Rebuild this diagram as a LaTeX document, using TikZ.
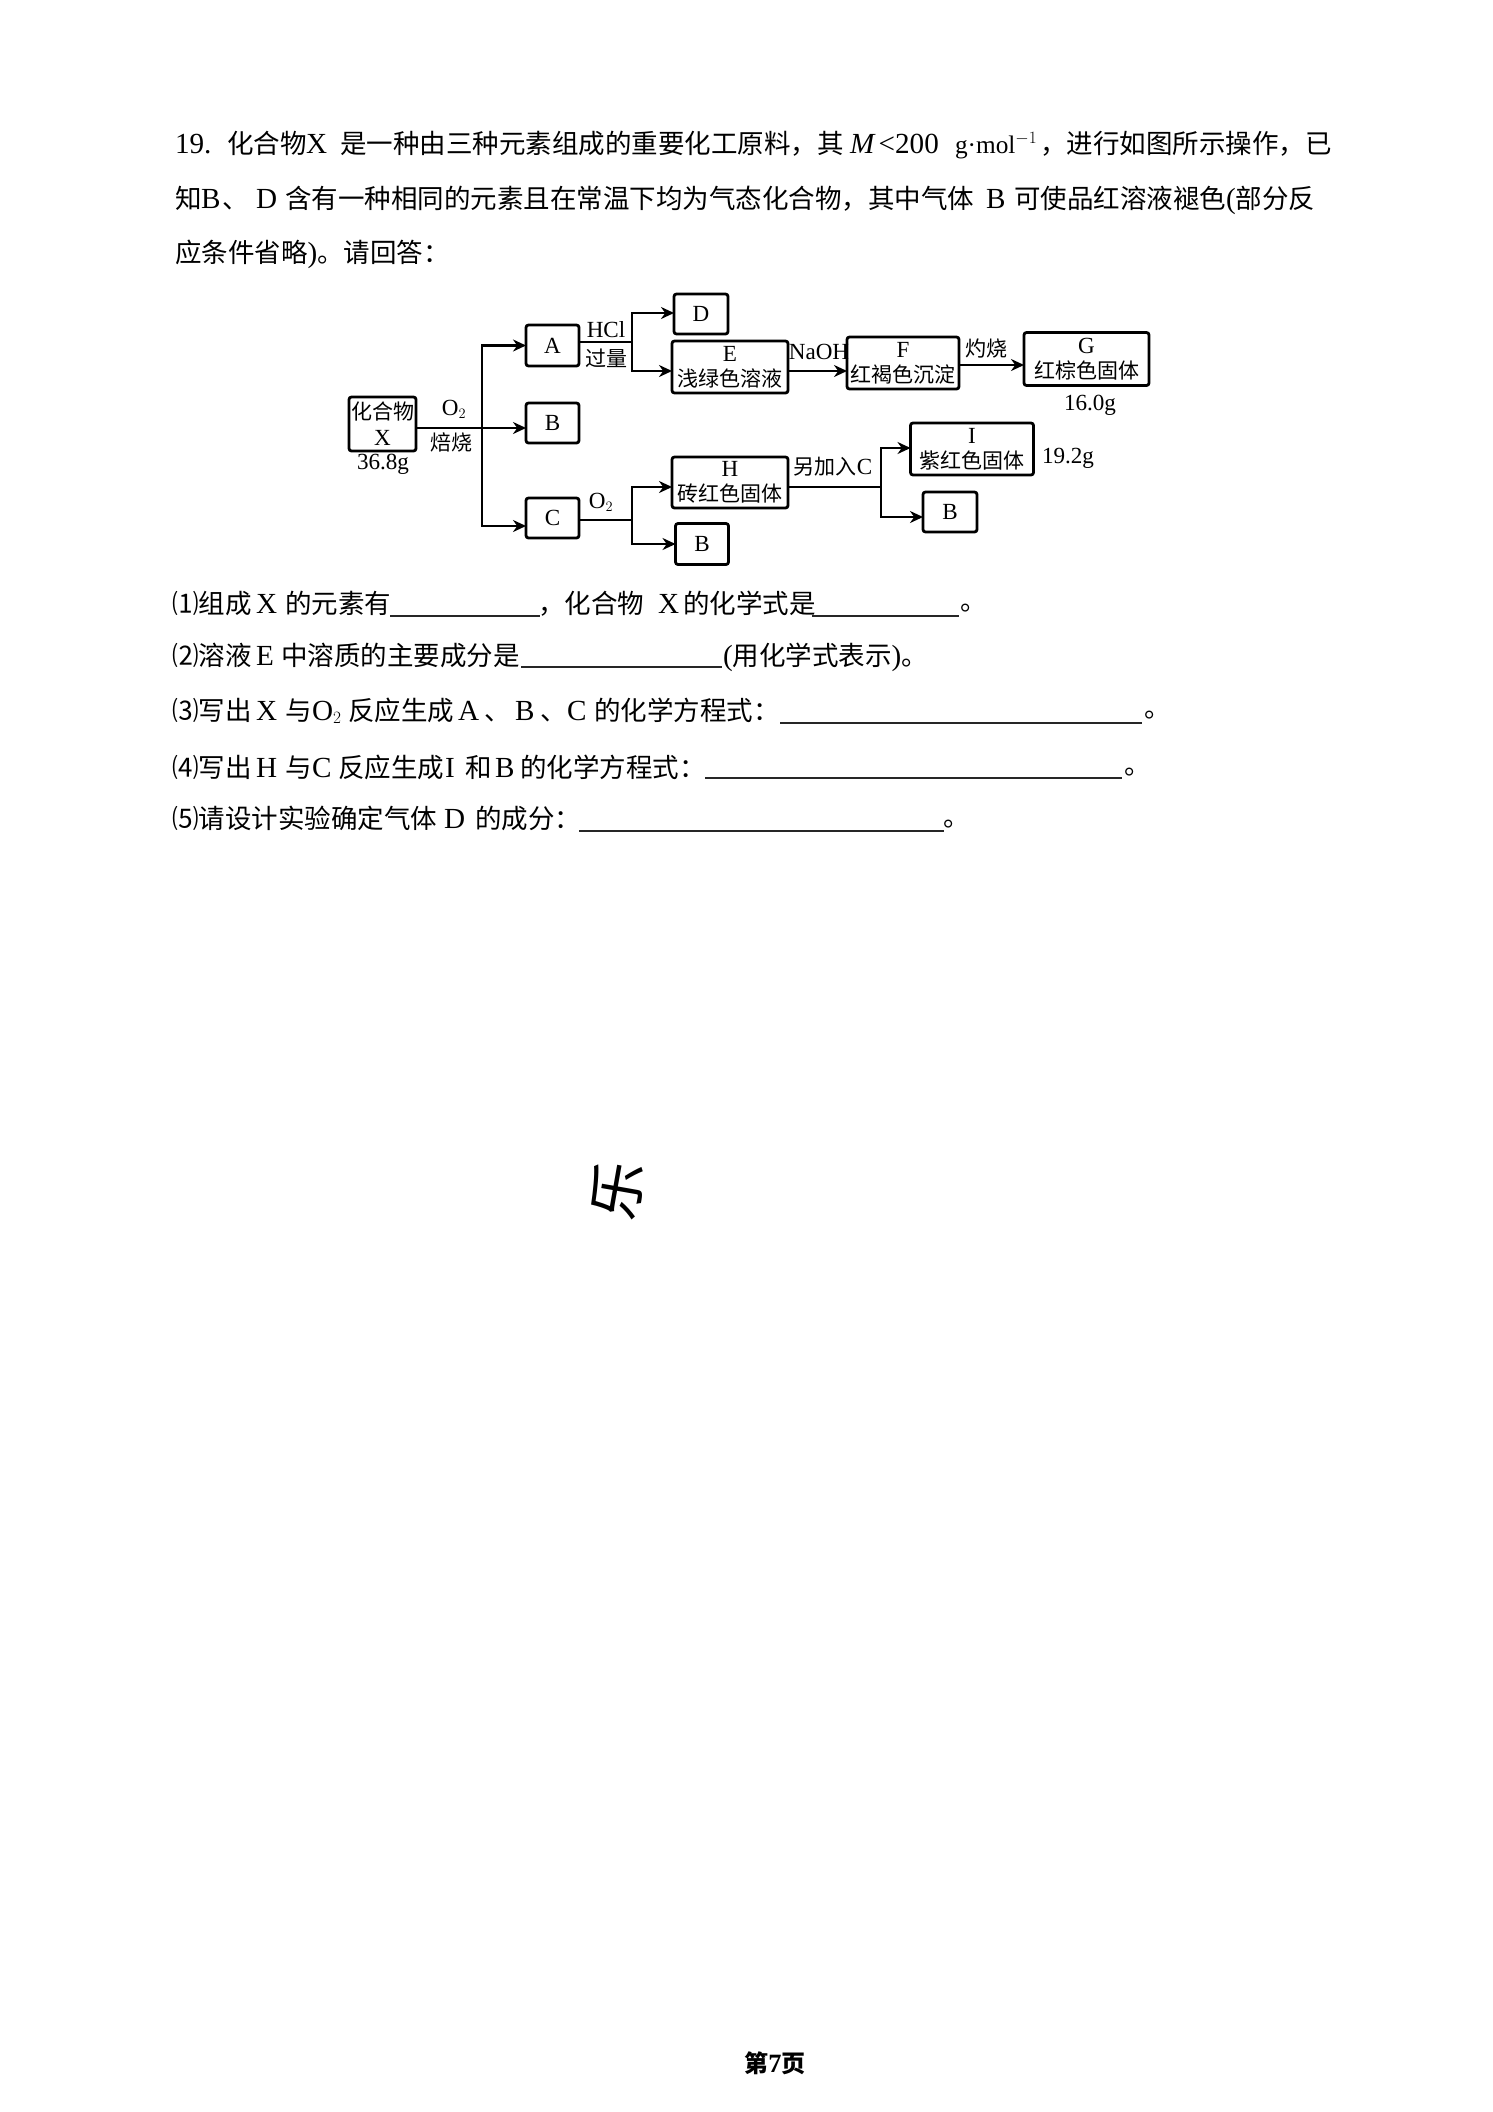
\documentclass[tikz,border=0pt]{standalone}
\usepackage{fontspec}
\setmainfont{Noto Sans CJK SC}
\newfontfamily\lat{Liberation Serif}[Scale=1.1]
\newfontfamily\latit{Liberation Serif Italic}[Scale=1.1]
\usetikzlibrary{arrows.meta,calc}
\newcommand{\tx}[4]{\node[txt] (#1) at (#2,#3) {#4};}
\newcommand{\la}[1]{{\lat #1}}
\tikzset{
  x=1pt,y=-1pt,
  txt/.style={anchor=base west,inner sep=0pt,outer sep=0pt,font=\fontsize{26.5}{30}\selectfont},
  lab/.style={anchor=center,inner sep=0pt,outer sep=0pt,font=\fontsize{21}{25}\selectfont,align=center},
  box/.style={draw=black,line width=2.8pt,rounded corners=2.5pt,inner sep=0pt,outer sep=0pt,align=center,font=\fontsize{21}{25}\selectfont},
  conn/.style={draw=black,line width=2.8pt},
  arr/.style={conn,-{Stealth[length=13pt,width=12pt]}},
  blank/.style={draw=black!85,line width=2.6pt},
}
\begin{document}
\begin{tikzpicture}
\fill[white] (0,0) rectangle (1492,2112);
\useasboundingbox (0,0) rectangle (1492,2112);
% question text
\tx{a1}{175}{153}{\la{19.}}
\tx{a2}{227}{153}{化合物}
\tx{a3}{306}{153}{\la{X}}
\tx{a4}{340}{153}{是一种由三种元素组成的重要化工原料，其}
\tx{a5}{850}{153}{{\latit M}\,\la{<200}}
\tx{a6}{955}{153}{{\fontsize{23}{26}\selectfont\la{g·mol$^{-1}$}}}
\tx{a7}{1040}{153}{，进行如图所示操作，已}
\tx{b1}{175}{208}{知}
\tx{b2}{201}{208}{\la{B}}
\tx{b3}{222}{208}{、}
\tx{b4}{256}{208}{\la{D}}
\tx{b5}{285}{208}{含有一种相同的元素且在常温下均为气态化合物，其中气体}
\tx{b6}{986}{208}{\la{B}}
\tx{b7}{1014}{208}{可使品红溶液褪色}
\tx{b8}{1226}{208}{\la{(}部分反}
\tx{c1}{175}{262}{应条件省略\la{)}。请回答：}
% questions
\tx{q1a}{172}{613}{⑴组成}
\tx{q1b}{256}{613}{\la{X}}
\tx{q1c}{285}{613}{的元素有}
\tx{q1d}{538}{613}{，化合物}
\tx{q1e}{658}{613}{\la{X}}
\tx{q1f}{683}{613}{的化学式是}
\tx{q1g}{960}{610}{。}
\tx{q2a}{172}{665}{⑵溶液}
\tx{q2b}{256}{665}{\la{E}}
\tx{q2c}{281}{665}{中溶质的主要成分是}
\tx{q2d}{723}{665}{\la{(}用化学式表示\la{)}。}
\tx{q3a}{172}{720}{⑶写出}
\tx{q3b}{256}{720}{\la{X}}
\tx{q3c}{285}{720}{与}
\tx{q3d}{312}{720}{\la{O$_{2}$}}
\tx{q3e}{348}{720}{反应生成}
\tx{q3f}{458}{720}{\la{A}}
\tx{q3g}{484}{720}{、}
\tx{q3h}{515}{720}{\la{B}}
\tx{q3i}{540}{720}{、}
\tx{q3j}{567}{720}{\la{C}}
\tx{q3k}{594}{720}{的化学方程式：}
\tx{q3l}{1144}{717}{。}
\tx{q4a}{172}{777}{⑷写出}
\tx{q4b}{256}{777}{\la{H}}
\tx{q4c}{285}{777}{与}
\tx{q4d}{312}{777}{\la{C}}
\tx{q4e}{338}{777}{反应生成}
\tx{q4f}{445}{777}{\la{I}}
\tx{q4g}{465}{777}{和}
\tx{q4h}{495}{777}{\la{B}}
\tx{q4i}{520}{777}{的化学方程式：}
\tx{q4j}{1124}{774}{。}
\tx{q5a}{172}{828}{⑸请设计实验确定气体}
\tx{q5b}{444}{828}{\la{D}}
\tx{q5c}{475}{828}{的成分：}
\tx{q5d}{943}{826}{。}
% blanks
\draw[blank] (390,616) -- (540,616);
\draw[blank] (812,616) -- (959,616);
\draw[blank] (521,667) -- (722,667);
\draw[blank] (780,723) -- (1142,723);
\draw[blank] (705,778) -- (1122,778);
\draw[blank] (579,831) -- (944,831);
% boxes
\node[box,minimum width=67pt,minimum height=54pt] (X) at (382.5,424) {化合物\\[1pt]\la{X}};
\node[box,minimum width=53pt,minimum height=41pt] (A) at (552.5,345.5) {\la{A}};
\node[box,minimum width=53pt,minimum height=40pt] (B1) at (552.5,423) {\la{B}};
\node[box,minimum width=53pt,minimum height=40pt] (C) at (552.5,518) {\la{C}};
\node[box,minimum width=54pt,minimum height=40pt] (D) at (701,314) {\la{D}};
\node[box,minimum width=116pt,minimum height=52pt] (E) at (730,367) {\la{E}\\浅绿色溶液};
\node[box,minimum width=112pt,minimum height=52pt] (F) at (903,363) {\la{F}\\红褐色沉淀};
\node[box,minimum width=125pt,minimum height=53pt] (G) at (1086.5,359) {\la{G}\\红棕色固体};
\node[box,minimum width=116pt,minimum height=51pt] (H) at (730,482.5) {\la{H}\\砖红色固体};
\node[box,minimum width=53pt,minimum height=41pt] (B2) at (702,544) {\la{B}};
\node[box,minimum width=123pt,minimum height=52pt] (I) at (972,449) {\la{I}\\紫红色固体};
\node[box,minimum width=54pt,minimum height=40pt] (B3) at (950,512) {\la{B}};
% labels
\node[lab] (l1) at (454,409) {\la{O$_{2}$}};
\node[lab] (l2) at (451,442) {焙烧};
\node[lab] (l3) at (383,464) {\la{36.8g}};
\node[lab] (l4) at (606,330) {\la{HCl}};
\node[lab] (l5) at (606,358) {过量};
\node[lab] (l6) at (819,352) {\la{NaOH}};
\node[lab] (l7) at (986,349) {灼烧};
\node[lab] (l8) at (1090,405) {\la{16.0g}};
\node[lab] (l9) at (1068,458) {\la{19.2g}};
\node[lab] (l10) at (833,467) {另加入\la{C}};
\node[lab] (l11) at (601,502) {\la{O$_{2}$}};
% connectors
\coordinate (j0) at (482,428);
\coordinate (j0t) at (482,345.5);
\coordinate (j0b) at (482,526);
\draw[conn] (X.east |- j0) -- (j0);
\draw[arr] (j0) -- (j0 -| B1.west);
\draw[arr] (j0) -- (j0t) -- (A.west);
\draw[arr] (j0) -- (j0b) -- (j0b -| C.west);
\coordinate (j1) at (632,342);
\coordinate (j1t) at (632,313);
\coordinate (j1b) at (632,371);
\draw[conn] (A.east |- j1) -- (j1);
\draw[arr] (j1) -- (j1t) -- (j1t -| D.west);
\draw[arr] (j1) -- (j1b) -- (j1b -| E.west);
\coordinate (e1) at (790,371);
\draw[arr] (E.east |- e1) -- (e1 -| F.west);
\coordinate (f1) at (961,365);
\draw[arr] (F.east |- f1) -- (f1 -| G.west);
\coordinate (j2) at (632,520);
\coordinate (j2t) at (632,487);
\coordinate (j2b) at (632,544);
\draw[conn] (C.east |- j2) -- (j2);
\draw[arr] (j2) -- (j2t) -- (j2t -| H.west);
\draw[arr] (j2) -- (j2b) -- (j2b -| B2.west);
\coordinate (j3) at (881,487);
\coordinate (j3t) at (881,448);
\coordinate (j3b) at (881,517);
\draw[conn] (H.east |- j3) -- (j3);
\draw[arr] (j3) -- (j3t) -- (j3t -| I.west);
\draw[arr] (j3) -- (j3b) -- (j3b -| B3.west);
% stray mark and page number
\node[inner sep=0pt,rotate=80,font=\fontsize{58}{62}\selectfont] (mark) at (617,1190) {乐};
\node[inner sep=0pt,font=\fontsize{24}{28}\bfseries\selectfont] (page) at (775,2063) {第\la{7}页};
\end{tikzpicture}
\end{document}
